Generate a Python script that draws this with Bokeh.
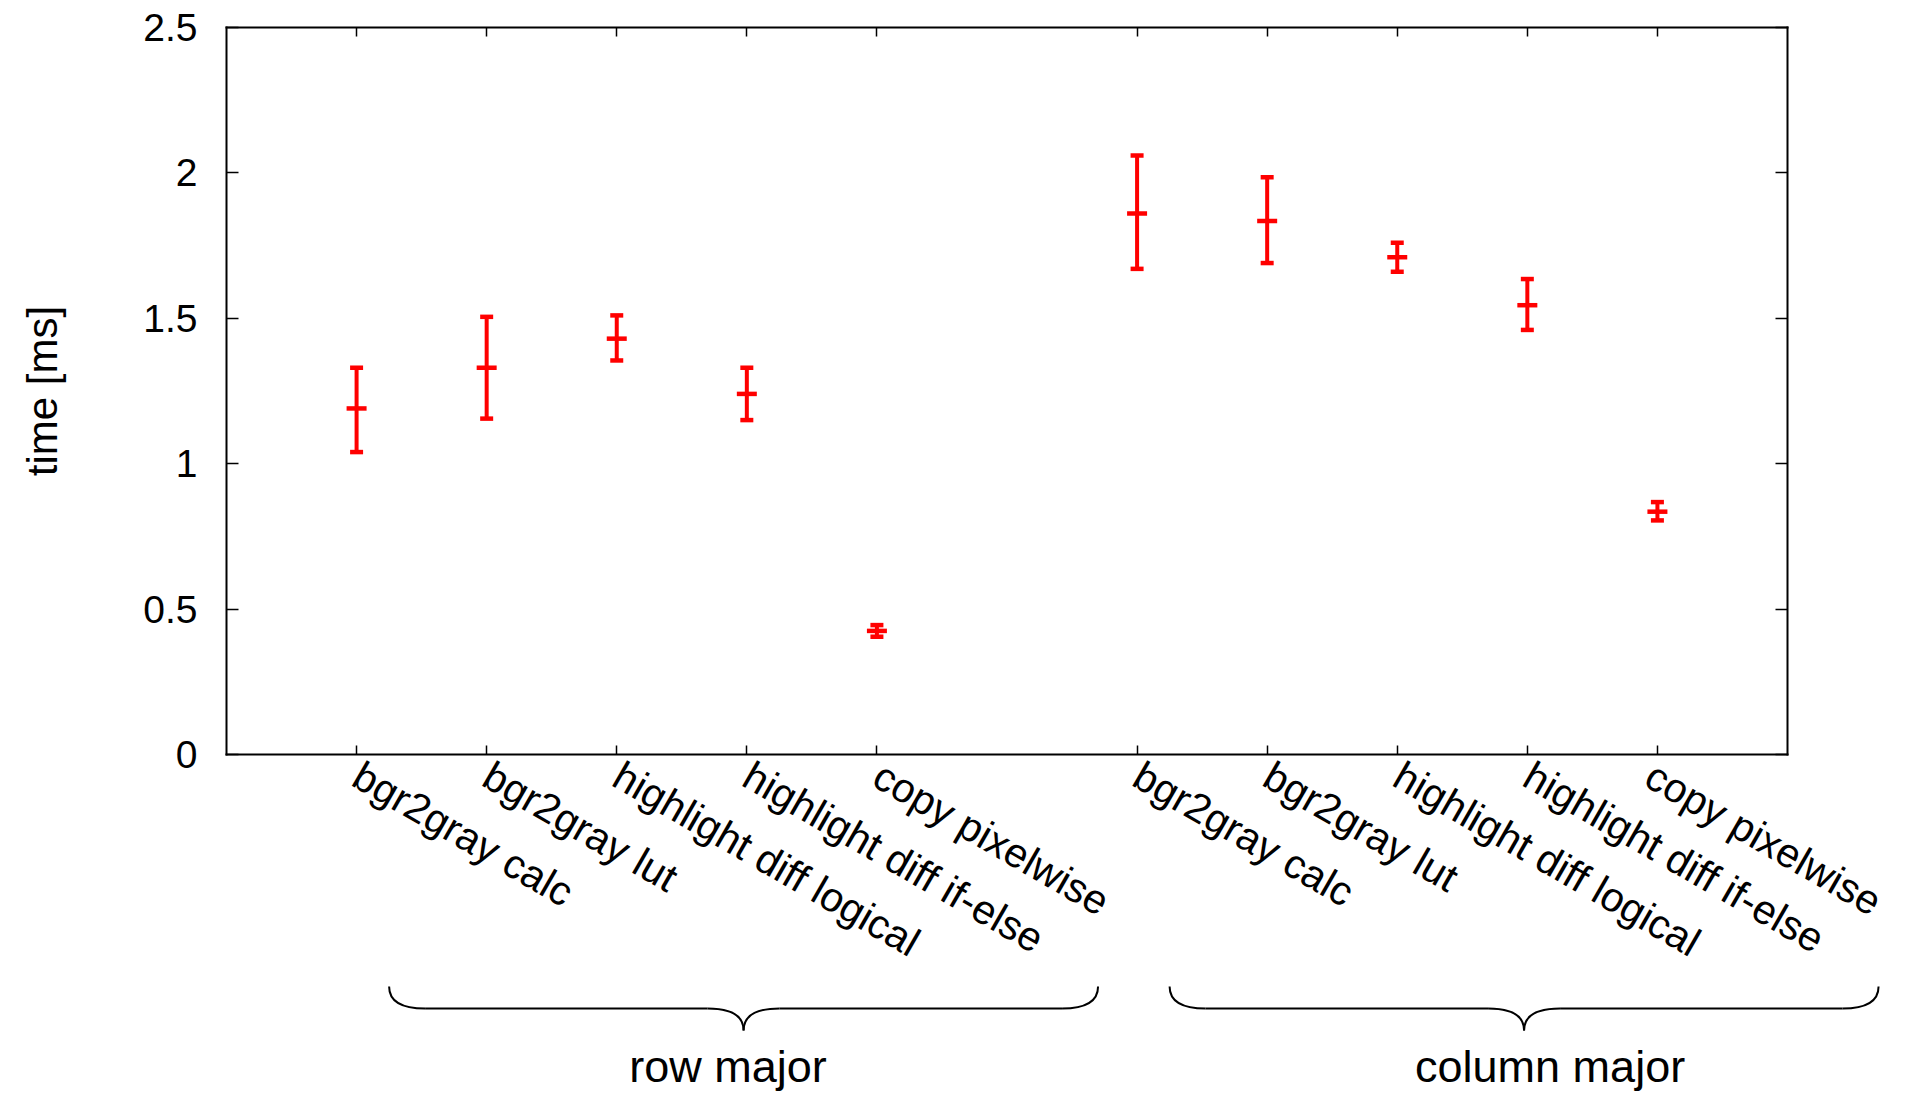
import math
from bokeh.plotting import figure
from bokeh.models import Range1d, LinearAxis, FixedTicker, ColumnDataSource
from bokeh.embed import file_html
from bokeh.resources import INLINE
from bokeh.core.properties import value

# ---------------- data ----------------
groups = ["row major", "column major"]
methods = ["bgr2gray calc", "bgr2gray lut", "highlight diff logical",
           "highlight diff if-else", "copy pixelwise"]
time_mean = [1.19, 1.33, 1.43, 1.24, 0.425, 1.86, 1.835, 1.71, 1.545, 0.835]
time_low = [1.04, 1.155, 1.355, 1.15, 0.405, 1.67, 1.69, 1.66, 1.46, 0.805]
time_high = [1.33, 1.505, 1.51, 1.33, 0.445, 2.06, 1.985, 1.76, 1.635, 0.868]
y_ticks = [0, 0.5, 1, 1.5, 2, 2.5]
y_tick_labels = ["0", "0.5", "1", "1.5", "2", "2.5"]
y_title = "time [ms]"

# x positions: groups separated by one empty slot
xs, xlabels, group_first, group_last = [], [], [], []
for g, _ in enumerate(groups):
    start = 1 + g * (len(methods) + 1)
    group_first.append(start)
    group_last.append(start + len(methods) - 1)
    for m, name in enumerate(methods):
        xs.append(start + m)
        xlabels.append(name)
box_x0, box_x1 = 0, max(xs) + 1      # visible plot box in x
box_y0, box_y1 = 0, 2.5              # visible plot box in y

# ---------------- geometry / style ----------------
FONT = "Liberation Sans"
RED = "#ff0000"
TOTAL_W, TOTAL_H = 1889, 1096
BOX_LEFT, BOX_TOP = 226, 27          # canvas px of plot box corner
BOX_W, BOX_H = 1561, 727             # canvas px of plot box
xunit = BOX_W / (box_x1 - box_x0)
yunit = BOX_H / (box_y1 - box_y0)
box_bottom = BOX_TOP + BOX_H

# the frame covers the whole canvas; the box is drawn by four fixed axes
x_lo = box_x0 - BOX_LEFT / xunit
x_hi = x_lo + TOTAL_W / xunit
y_hi = box_y1 + BOX_TOP / yunit
y_lo = y_hi - TOTAL_H / yunit


def ydata(px):   # canvas px (from top) -> y data value
    return box_y0 - (px - box_bottom) / yunit


def xdata(px):   # canvas px (from left) -> x data value
    return box_x0 + (px - BOX_LEFT) / xunit


p = figure(frame_width=TOTAL_W, frame_height=TOTAL_H,
           x_range=Range1d(x_lo, x_hi), y_range=Range1d(y_lo, y_hi),
           x_axis_type=None, y_axis_type=None,
           min_border_left=0, min_border_right=0,
           min_border_top=0, min_border_bottom=0,
           output_backend="svg", toolbar_location=None)
p.outline_line_color = None


def style_axis(ax, tick_in):
    ax.axis_line_color = "black"
    ax.axis_line_width = 2
    ax.axis_line_cap = "square"
    ax.major_tick_in = tick_in
    ax.major_tick_out = 0
    ax.major_tick_line_width = 1.5
    ax.major_tick_line_color = "black"
    ax.minor_tick_line_color = None
    ax.major_label_text_font = FONT
    ax.major_label_text_color = "black"


# bottom axis at y = 0
xb = LinearAxis(ticker=FixedTicker(ticks=xs), fixed_location=box_y0,
                bounds=(box_x0, box_x1),
                major_label_overrides={x: l for x, l in zip(xs, xlabels)},
                major_label_orientation=-math.pi / 6)
style_axis(xb, 9)
xb.major_label_text_font_size = "41px"
xb.major_label_standoff = 18
p.add_layout(xb, "below")

# top axis at y = 2.5 (mirror ticks)
xa = LinearAxis(ticker=FixedTicker(ticks=xs), fixed_location=box_y1,
                bounds=(box_x0, box_x1),
                major_label_overrides={x: "" for x in xs})
style_axis(xa, 9)
xa.major_label_text_font_size = "1px"
xa.major_label_standoff = 0
p.add_layout(xa, "above")

# left axis at x = 0
yl = LinearAxis(ticker=FixedTicker(ticks=y_ticks), fixed_location=box_x0,
                bounds=(box_y0, box_y1),
                major_label_overrides={t: s for t, s in zip(y_ticks, y_tick_labels)})
style_axis(yl, 12)
yl.major_label_text_font_size = "39px"
yl.major_label_standoff = 29
p.add_layout(yl, "left")

# right axis at the box's right edge (mirror ticks)
yr = LinearAxis(ticker=FixedTicker(ticks=y_ticks), fixed_location=box_x1,
                bounds=(box_y0, box_y1),
                major_label_overrides={t: "" for t in y_ticks})
style_axis(yr, 12)
yr.major_label_text_font_size = "1px"
yr.major_label_standoff = 0
p.add_layout(yr, "right")

# y title, centred on the box
p.text(x=[xdata(42)], y=[(box_y0 + box_y1) / 2], text=[y_title], angle=math.pi / 2,
       text_font=value(FONT), text_font_size="42px", text_align="center",
       text_baseline="middle", text_color="black")

# ---------------- error bars ----------------
src = ColumnDataSource(dict(x=xs, mean=time_mean, low=time_low, high=time_high))
p.segment(x0="x", y0="low", x1="x", y1="high", source=src, line_color=RED, line_width=4)
p.scatter(x="x", y="low", marker="dash", size=13, line_color=RED, line_width=4.5, source=src)
p.scatter(x="x", y="high", marker="dash", size=13, line_color=RED, line_width=4.5, source=src)
p.scatter(x="x", y="mean", marker="dash", size=20, line_color=RED, line_width=4.5, source=src)

# ---------------- braces + group labels ----------------
brace_pad_left, brace_pad_right = 0.25, 1.70
Y_TOP, Y_MID, Y_TIP = ydata(986), ydata(1008), ydata(1030)
r = 36 / xunit
label_nudge = [-0.12, 0.20]
q = dict(x0=[], y0=[], x1=[], y1=[], cx=[], cy=[])
sx0, sx1, lx = [], [], []
for g in range(len(groups)):
    a = group_first[g] + brace_pad_left
    e = group_last[g] + brace_pad_right
    c = (a + e) / 2
    for (p0, cc, p1) in [((a, Y_TOP), (a, Y_MID), (a + r, Y_MID)),
                         ((c - r, Y_MID), (c, Y_MID), (c, Y_TIP)),
                         ((c + r, Y_MID), (c, Y_MID), (c, Y_TIP)),
                         ((e, Y_TOP), (e, Y_MID), (e - r, Y_MID))]:
        q["x0"].append(p0[0]); q["y0"].append(p0[1])
        q["x1"].append(p1[0]); q["y1"].append(p1[1])
        q["cx"].append(cc[0]); q["cy"].append(cc[1])
    sx0 += [a + r, c + r]
    sx1 += [c - r, e - r]
    lx.append(c + label_nudge[g])

p.quadratic(x0="x0", y0="y0", x1="x1", y1="y1", cx="cx", cy="cy",
            source=ColumnDataSource(q), line_color="black", line_width=2)
p.segment(x0=sx0, y0=[Y_MID] * len(sx0), x1=sx1, y1=[Y_MID] * len(sx1),
          line_color="black", line_width=2)
p.text(x=lx, y=[ydata(1066)] * len(lx), text=groups, text_font=value(FONT),
       text_font_size="45px", text_align="center", text_baseline="middle",
       text_color="black")

open("out.html", "w").write(file_html(p, INLINE))
